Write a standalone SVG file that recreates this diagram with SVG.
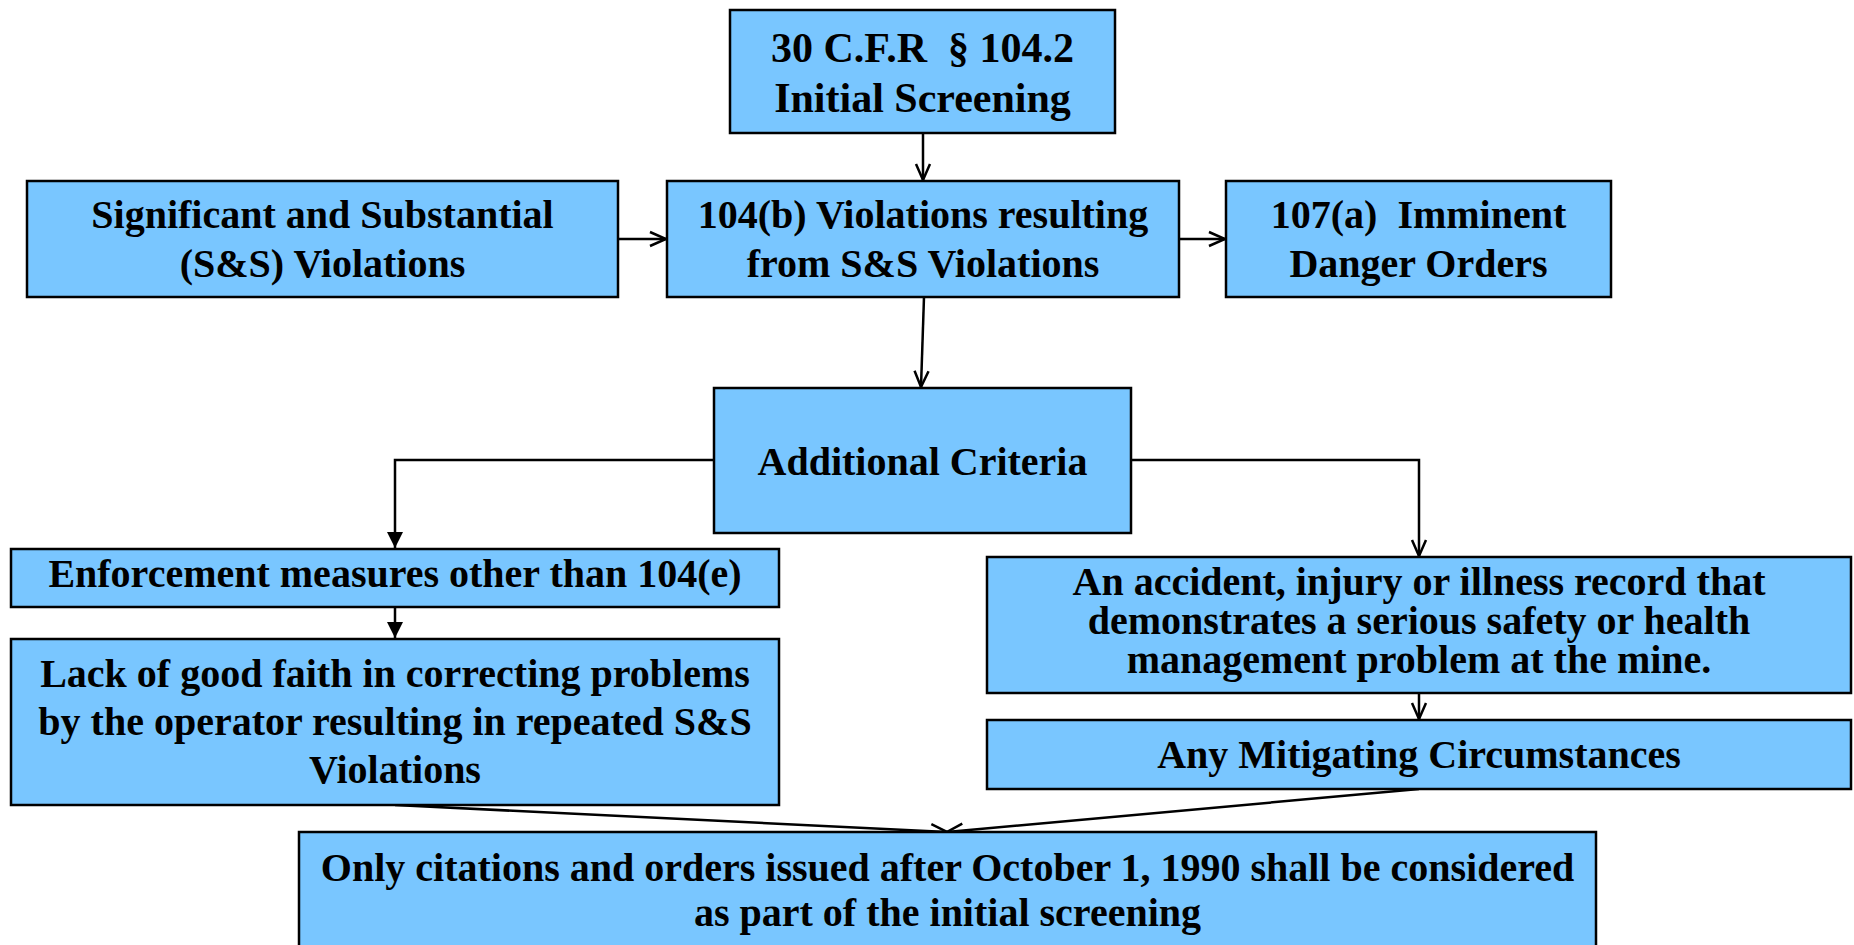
<svg xmlns="http://www.w3.org/2000/svg" width="1854" height="945" viewBox="0 0 1854 945">
<style>
.box{fill:#79C6FF;stroke:#000;stroke-width:2.5}
.t{font-family:"Liberation Serif","Times New Roman",serif;font-weight:bold;font-size:40px;fill:#000;text-anchor:middle}
.big{font-size:42px}
.c{fill:none;stroke:#000;stroke-width:2.5}
</style>
<defs>
<marker id="open" markerUnits="userSpaceOnUse" markerWidth="20" markerHeight="20" refX="17" refY="8" orient="auto" viewBox="0 0 20 16">
<path d="M1,1 L17,8 L1,15" fill="none" stroke="#000" stroke-width="2.5"/>
</marker>
<marker id="fill" markerUnits="userSpaceOnUse" markerWidth="18" markerHeight="16" refX="16" refY="8" orient="auto" viewBox="0 0 18 16">
<path d="M0,0 L16,8 L0,16 Z" fill="#000"/>
</marker>
</defs>
<rect width="1854" height="945" fill="#fff"/>
<g id="connectors">
<path class="c" d="M923,133 V180" marker-end="url(#open)"/>
<path class="c" d="M618,239 H666" marker-end="url(#open)"/>
<path class="c" d="M1179,239 H1225" marker-end="url(#open)"/>
<path class="c" d="M924,297 L921,387" marker-end="url(#open)"/>
<path class="c" d="M714,460 H395 V548" marker-end="url(#fill)"/>
<path class="c" d="M395,607 V638" marker-end="url(#fill)"/>
<path class="c" d="M1131,460 H1419 V556" marker-end="url(#open)"/>
<path class="c" d="M1419,693 V719" marker-end="url(#open)"/>
<path class="c" d="M395,805 L947,832" marker-end="url(#open)"/>
<path class="c" d="M1419,789 L947,832" marker-end="url(#open)"/>
</g>
<g id="n-top">
<rect class="box" x="730" y="10" width="385" height="123"/>
<text class="t big" x="922.5" y="62" xml:space="preserve">30 C.F.R  § 104.2</text>
<text class="t big" x="922.5" y="112">Initial Screening</text>
</g>
<g id="n-ss">
<rect class="box" x="27" y="181" width="591" height="116"/>
<text class="t" x="322.5" y="228">Significant and Substantial</text>
<text class="t" x="322.5" y="277">(S&amp;S) Violations</text>
</g>
<g id="n-104b">
<rect class="box" x="667" y="181" width="512" height="116"/>
<text class="t" x="923" y="228">104(b) Violations resulting</text>
<text class="t" x="923" y="277">from S&amp;S Violations</text>
</g>
<g id="n-107a">
<rect class="box" x="1226" y="181" width="385" height="116"/>
<text class="t" x="1418.5" y="228" xml:space="preserve">107(a)  Imminent</text>
<text class="t" x="1418.5" y="277">Danger Orders</text>
</g>
<g id="n-additional">
<rect class="box" x="714" y="388" width="417" height="145"/>
<text class="t" x="922.5" y="475">Additional Criteria</text>
</g>
<g id="n-enforcement">
<rect class="box" x="11" y="549" width="768" height="58"/>
<text class="t" x="395" y="587">Enforcement measures other than 104(e)</text>
</g>
<g id="n-lack">
<rect class="box" x="11" y="639" width="768" height="166"/>
<text class="t" x="395" y="687">Lack of good faith in correcting problems</text>
<text class="t" x="395" y="735">by the operator resulting in repeated S&amp;S</text>
<text class="t" x="395" y="783">Violations</text>
</g>
<g id="n-accident">
<rect class="box" x="987" y="557" width="864" height="136"/>
<text class="t" x="1419" y="595">An accident, injury or illness record that</text>
<text class="t" x="1419" y="634">demonstrates a serious safety or health</text>
<text class="t" x="1419" y="673">management problem at the mine.</text>
</g>
<g id="n-mitigating">
<rect class="box" x="987" y="720" width="864" height="69"/>
<text class="t" x="1419" y="768">Any Mitigating Circumstances</text>
</g>
<g id="n-bottom">
<rect class="box" x="299" y="832" width="1297" height="130"/>
<text class="t" x="947.5" y="881">Only citations and orders issued after October 1, 1990 shall be considered</text>
<text class="t" x="947.5" y="926">as part of the initial screening</text>
</g>
</svg>
